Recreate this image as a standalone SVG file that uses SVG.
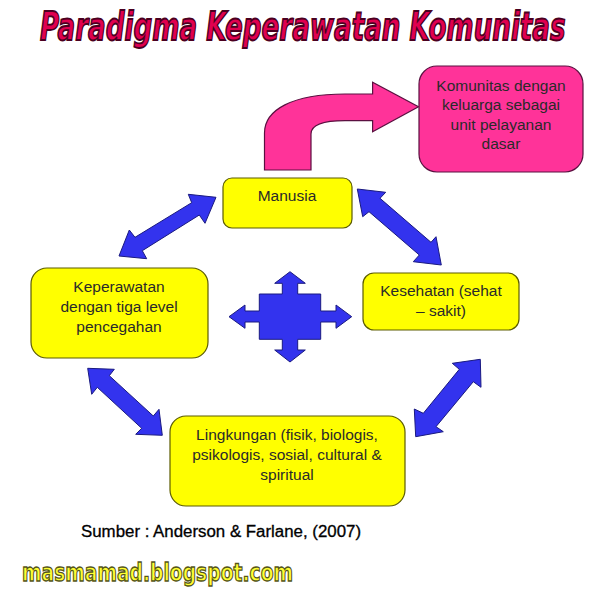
<svg xmlns="http://www.w3.org/2000/svg" width="605" height="602" viewBox="0 0 605 602">
<style>
.y{fill:#ffff00;stroke:#5c5c00;stroke-width:1.2}
.p{fill:#ff3399;stroke:#5a1040;stroke-width:1.2}
.b{fill:#3333ee;stroke:#1a1a80;stroke-width:1}
text{font-family:"Liberation Sans",Arial,sans-serif}
.t{font-size:15.5px;fill:#2a2a2a;text-anchor:middle}
</style>
<rect width="605" height="602" fill="#fff"/>
<text id="title" transform="translate(40 40) scale(.8 1.05)" font-size="37" font-weight="bold" font-style="italic" fill="#e0004f" stroke="#4a0020" stroke-width="1.7" textLength="657" lengthAdjust="spacingAndGlyphs" style="font-family:'DejaVu Sans',sans-serif">Paradigma Keperawatan Komunitas</text>
<g id="connectors">
<path class="p" d="M264.500 170V133C264.500 110 292 94 345 94H372.600V82.300L418.500 106.700 372.600 131.700V120.700H345C325 120.700 311 124 311 134V170Z"/>
<path class="b" d="M216 197.300 188.300 194.300 191.700 202.700 135 237.300 129.300 230 119 256 146.700 258.700 142.300 250.700 199.300 215 205 223.300Z"/>
<path class="b" d="M357.300 189 385.700 192.300 380 198.300 431 242.300 436 236.700 441.300 265 413.300 261.700 419.300 255 369 211.700 362.700 216.700Z"/>
<path class="b" d="M87.700 368.300 114.300 369.300 109.300 375.700 153.300 416 159 409.300 162.300 435.300 135.700 434.300 141.700 428.300 97.300 387.300 91.700 394.300Z"/>
<path class="b" d="M480.300 359.300 452.300 363.300 459.300 369.300 423.300 413.300 414.300 409 415.700 436.700 443.300 431.700 436 426.700 473.300 381.700 481 387.300Z"/>
</g>
<g id="center-cross">
<path class="b" d="M290 271.700 305.300 283.300H297.700V294H320.700V311H336V305L351.700 316.700 336 328.300V322H320.700V339.300H297.700V350H305.300L290 362 274.700 350H282.300V339.300H259.300V322H245V328.300L229 316.700 245 305V311H259.300V294H282.300V283.300H274.700Z"/>
</g>
<g id="komunitas">
<rect class="p" x="419" y="66" width="164" height="106" rx="18"/>
<text class="t" x="501" y="91">Komunitas dengan</text>
<text class="t" x="501" y="110">keluarga sebagai</text>
<text class="t" x="501" y="130">unit pelayanan</text>
<text class="t" x="501" y="149">dasar</text>
</g>
<g id="manusia">
<rect class="y" x="223" y="178" width="129" height="50" rx="9"/>
<text class="t" x="287" y="201">Manusia</text>
</g>
<g id="keperawatan">
<rect class="y" x="31" y="268" width="177" height="90" rx="16"/>
<text class="t" x="119" y="292">Keperawatan</text>
<text class="t" x="119" y="312">dengan tiga level</text>
<text class="t" x="119" y="332">pencegahan</text>
</g>
<g id="kesehatan">
<rect class="y" x="363" y="273" width="156" height="57" rx="11"/>
<text class="t" x="441" y="296">Kesehatan (sehat</text>
<text class="t" x="441" y="316">– sakit)</text>
</g>
<g id="lingkungan">
<rect class="y" x="170" y="416" width="235" height="90" rx="16"/>
<text class="t" x="287" y="440">Lingkungan (fisik, biologis,</text>
<text class="t" x="287" y="460">psikologis, sosial, cultural &amp;</text>
<text class="t" x="287" y="480">spiritual</text>
</g>
<text id="source" x="81" y="537" font-size="16" fill="#000" stroke="#000" stroke-width=".3" textLength="280" lengthAdjust="spacingAndGlyphs">Sumber : Anderson &amp; Farlane, (2007)</text>
<text id="blog" x="22" y="581" font-size="24" font-weight="bold" fill="#ffff33" stroke="#55551a" stroke-width="1.3" textLength="271" lengthAdjust="spacingAndGlyphs" style="font-family:'DejaVu Sans',sans-serif">masmamad.blogspot.com</text>
</svg>
